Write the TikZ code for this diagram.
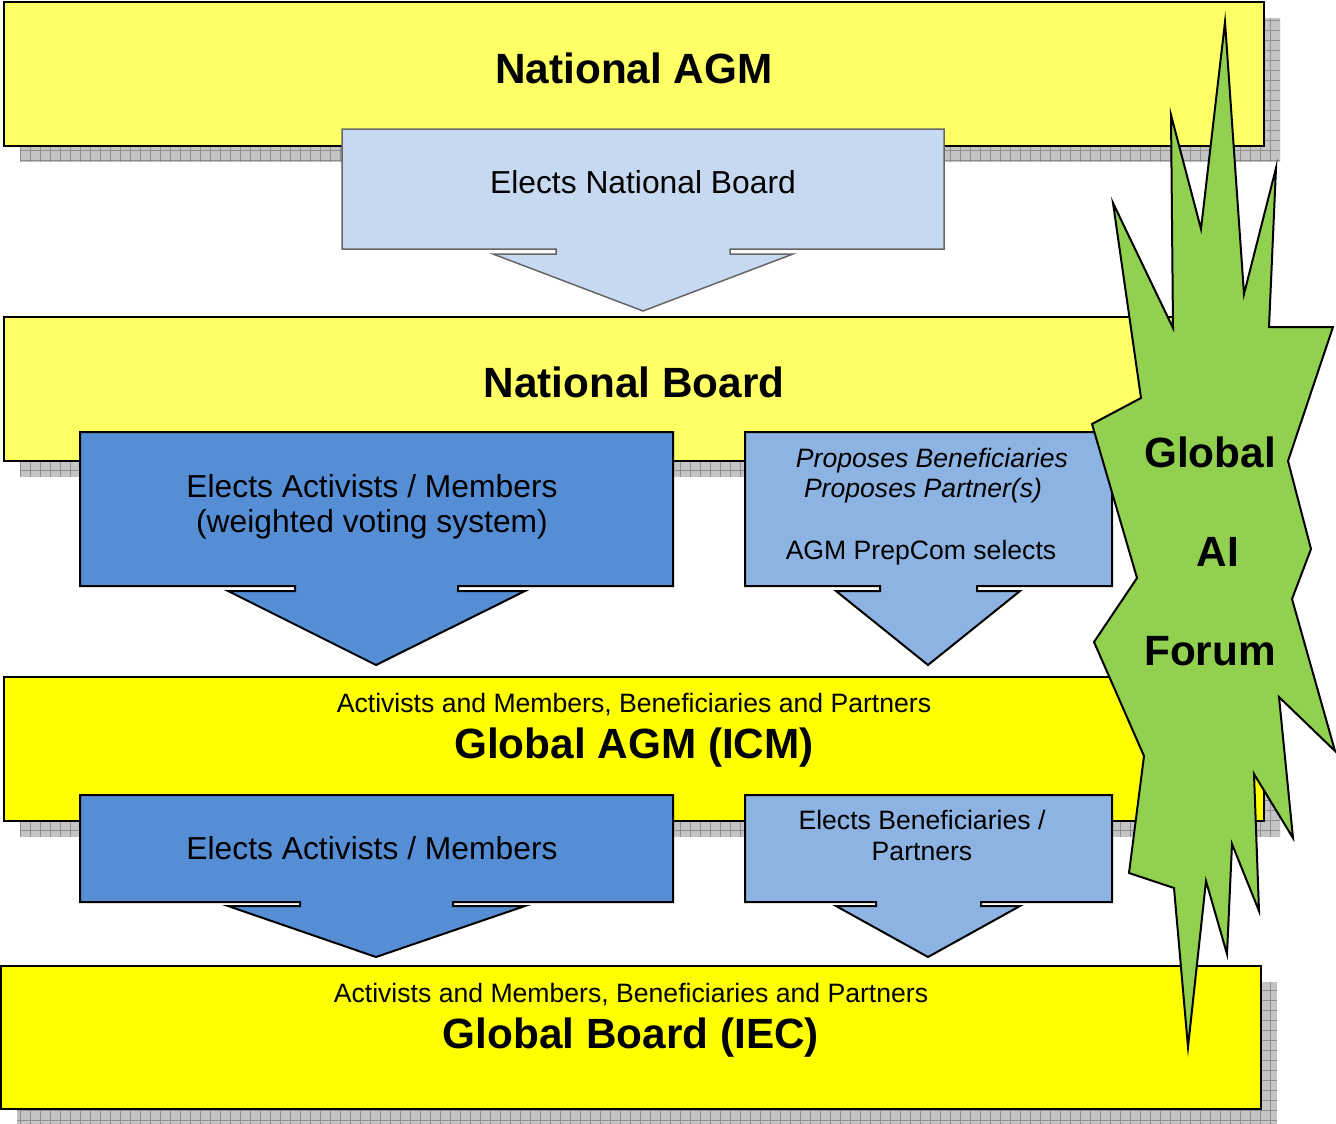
\documentclass[tikz,border=0pt]{standalone}
\usepackage{fontspec}
\setmainfont{Liberation Sans}
\definecolor{paleyellow}{HTML}{FFFF66}
\definecolor{brightyellow}{HTML}{FFFF00}
\definecolor{paleblue}{HTML}{C6D9F1}
\definecolor{midblue}{HTML}{558ED5}
\definecolor{softblue}{HTML}{8DB3E2}
\definecolor{forumgreen}{HTML}{92D050}
\definecolor{shadowfill}{HTML}{C4C4C4}
\definecolor{shadowline}{HTML}{8E8E8E}
\newcommand{\bigfont}{\fontsize{42.3}{48}\selectfont\bfseries}
\newcommand{\midfont}{\fontsize{31.8}{36}\selectfont}
\newcommand{\smallfont}{\fontsize{26.6}{31}\selectfont}
% hatched drop shadow behind a level box
\newcommand{\gridshadow}[4]{%
  \begin{scope}
    \clip (#1,#2) rectangle (#3,#4);
    \fill[shadowfill] (#1,#2) rectangle (#3,#4);
    \draw[shadowline, line width=0.8pt, step=10pt] (#1,#2) grid (#3,#4);
  \end{scope}}
\tikzset{
  level/.style={draw=black, line width=2.5pt},
  callout/.style={draw=black, line width=2pt, line join=miter},
  label/.style={anchor=base, inner sep=0pt, text=black},
}
\begin{document}
\begin{tikzpicture}[x=1pt, y=-1pt]
\useasboundingbox (0,0) rectangle (1336,1124);

% ---- National AGM ----
\gridshadow{20}{18}{1280}{162}
\path[level, fill=paleyellow] (4,2) rectangle (1264,146);
\node[label] (nagm) at (634,83) {\bigfont National AGM};

% callout: elects national board
\path[draw=black!60, line width=1.5pt, fill=paleblue]
  (342,129) -- (944,129) -- (944,249) -- (730,249) -- (730,254) -- (793,254)
  -- (643,311) -- (493,254) -- (556,254) -- (556,249) -- (342,249) -- cycle;
\node[label] (enb) at (643,193) {\midfont Elects National Board};

% ---- National Board ----
\gridshadow{20}{333}{1280}{477}
\path[level, fill=paleyellow] (4,317) rectangle (1264,461);
\node[label] (nb) at (634,397) {\bigfont National Board};

% callout: elects activists / members (weighted)
\path[callout, fill=midblue]
  (80,432) -- (673,432) -- (673,586) -- (458,586) -- (458,591) -- (525,591)
  -- (376,665) -- (228,591) -- (295,591) -- (295,586) -- (80,586) -- cycle;
\node[label] (eam1) at (372,497) {\midfont Elects Activists / Members};
\node[label] (wvs) at (372,532) {\midfont (weighted voting system)};

% callout: proposes beneficiaries / partners
\path[callout, fill=softblue]
  (745,432) -- (1112,432) -- (1112,586) -- (977,586) -- (977,591) -- (1020,591)
  -- (928,665) -- (836,591) -- (880,591) -- (880,586) -- (745,586) -- cycle;
\node[label] (pb) at (932,467) {\smallfont\itshape Proposes Beneficiaries};
\node[label] (pp) at (923,497) {\smallfont\itshape Proposes Partner(s)};
\node[label] (prep) at (921,559) {\smallfont AGM PrepCom selects};

% ---- Global AGM (ICM) ----
\gridshadow{20}{693}{1280}{837}
\path[level, fill=brightyellow] (4,677) rectangle (1264,821);
\node[label] (gsub1) at (634,712) {\smallfont Activists and Members, Beneficiaries and Partners};
\node[label] (gagm) at (634,758) {\bigfont Global AGM (ICM)};

% callout: elects activists / members
\path[callout, fill=midblue]
  (80,795) -- (673,795) -- (673,902) -- (453,902) -- (453,906) -- (525,906)
  -- (376,957) -- (228,906) -- (300,906) -- (300,902) -- (80,902) -- cycle;
\node[label] (eam2) at (372,859) {\midfont Elects Activists / Members};

% callout: elects beneficiaries / partners
\path[callout, fill=softblue]
  (745,795) -- (1112,795) -- (1112,902) -- (981,902) -- (981,906) -- (1020,906)
  -- (928,957) -- (836,906) -- (876,906) -- (876,902) -- (745,902) -- cycle;
\node[label] (ebp1) at (922,829) {\smallfont Elects Beneficiaries /};
\node[label] (ebp2) at (922,860) {\smallfont Partners};

% ---- Global Board (IEC) ----
\gridshadow{17}{982}{1277}{1124}
\path[level, fill=brightyellow] (1,966) rectangle (1261,1109);
\node[label] (gsub2) at (631,1002) {\smallfont Activists and Members, Beneficiaries and Partners};
\node[label] (gb) at (631,1048) {\bigfont Global Board (IEC)};

% ---- Global AI Forum burst ----
\path[draw=black, line width=2pt, line join=miter, miter limit=20, fill=forumgreen]
  (1225,22) -- (1244,294) -- (1276,168) -- (1269,327) -- (1333,327)
  -- (1288,461) -- (1311,549) -- (1292,599) -- (1335,751) -- (1279,697)
  -- (1293,838) -- (1254,774) -- (1259,911) -- (1232,844) -- (1227,954)
  -- (1206,881) -- (1188,1047) -- (1174,888) -- (1129,873) -- (1144,756)
  -- (1094,642) -- (1137,578) -- (1092,424) -- (1141,398) -- (1113,203)
  -- (1173,328) -- (1171,115) -- (1201,229) -- cycle;
\node[label] (fg) at (1210,467) {\bigfont Global};
\node[label] (fa) at (1218,566) {\bigfont AI};
\node[label] (ff) at (1210,665) {\bigfont Forum};
\end{tikzpicture}
\end{document}
